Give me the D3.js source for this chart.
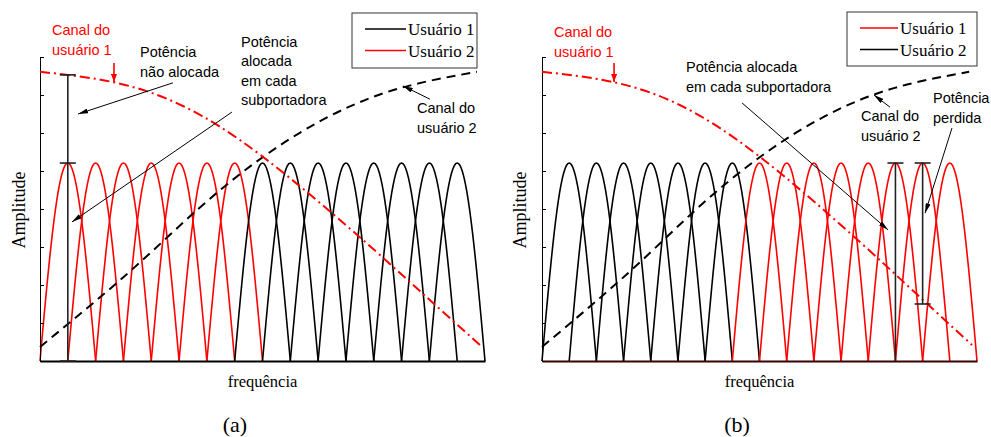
<!DOCTYPE html>
<html><head><meta charset="utf-8">
<script src="https://cdn.jsdelivr.net/npm/d3@7"></script>
<style>body{margin:0;background:#fff} svg{display:block}</style>
</head><body>
<svg id="c" width="991" height="437"></svg>
<script>
// ---------- data ----------
const carrierCenters = [1,2,3,4,5,6,7,8,9,10,11,12,13,14,15];
const carrierAmp = [5.21,5.21,5.21,5.21,5.21,5.21,5.21,5.21,5.21,5.21,5.21,5.21,5.21,5.21,5.21];
const ownerA = [2,2,2,2,2,2,2,1,1,1,1,1,1,1,1];
const ownerB = [2,2,2,2,2,2,2,1,1,1,1,1,1,1,1];
const ch1Freq = [0,2.62,5.14,8.02,11.40,13.66,15.82];
const ch1Amp  = [7.61,7.34,6.71,5.37,3.32,1.84,0.42];
const ch2Freq = [0,3.13,5.64,8.02,10.43,12.94,15.71];
const ch2Amp  = [0.37,2.29,3.97,5.37,6.45,7.18,7.61];
const yTicks = [0,1,2,3,4,5,6,7,8];
const legendLabels = ["Usuário 1","Usuário 2"];
const userColorsA = {1:"#000000", 2:"#ff0000"};
const userColorsB = {1:"#ff0000", 2:"#000000"};
const panelLabels = ["(a)","(b)"];

const RED = "#ff0000";
const SANS = "'Liberation Sans', Arial, sans-serif";
const SERIF = "'Liberation Serif', 'Times New Roman', serif";

const svg = d3.select("#c");
const defs = svg.append("defs");
function marker(id, color, w, h){
  defs.append("marker").attr("id", id)
    .attr("markerUnits","userSpaceOnUse")
    .attr("viewBox",`0 0 ${w} ${h}`)
    .attr("markerWidth", w).attr("markerHeight", h)
    .attr("refX", w).attr("refY", h/2).attr("orient","auto")
    .append("path").attr("d",`M0,0L${w},${h/2}L0,${h}Z`).attr("fill", color);
}
marker("arrK","#000",10,5);
marker("arrR",RED,8,6);

function panel(cfg){
  const x = d3.scaleLinear().domain([0,16]).range([cfg.x0, cfg.x1]);
  const y = d3.scaleLinear().domain([0,8]).range([361,57]);
  const g = svg.append("g");

  // lobes
  const lobeLine = d3.line().x(d=>x(d[0])).y(d=>y(d[1]));
  const steps = d3.range(0,41).map(i=>i/40);
  carrierCenters.forEach((c,i)=>{
    const pts = steps.map(t=>[c-1+2*t, carrierAmp[i]*Math.sin(Math.PI*t)]);
    g.append("path").attr("d", lobeLine(pts)).attr("fill","none")
      .attr("stroke", cfg.colors[cfg.owner[i]]).attr("stroke-width",1.6);
  });

  // axes
  const ya = d3.axisRight(y).tickValues(yTicks).tickSize(4).tickSizeOuter(0).tickFormat("");
  g.append("g").attr("transform",`translate(${cfg.x0},0)`).call(ya)
    .call(s=>s.selectAll("path,line").attr("stroke","#000").attr("stroke-width",1));
  const xa = d3.axisBottom(x).tickValues([]).tickSizeOuter(0);
  g.append("g").attr("transform",`translate(0,${y(0)})`).call(xa)
    .call(s=>s.selectAll("path").attr("stroke",cfg.xAxisColor).attr("stroke-width",2));

  // channels
  const chLine = d3.line().x(d=>x(d[0])).y(d=>y(d[1])).curve(d3.curveNatural);
  g.append("path").attr("d", chLine(ch2Freq.map((f,i)=>[f,ch2Amp[i]])))
    .attr("fill","none").attr("stroke","#000").attr("stroke-width",2)
    .attr("stroke-dasharray","9,6");
  g.append("path").attr("d", chLine(ch1Freq.map((f,i)=>[f,ch1Amp[i]])))
    .attr("fill","none").attr("stroke",RED).attr("stroke-width",2)
    .attr("stroke-dasharray","10,4,2,4");

  // bars
  cfg.bars.forEach(b=>{
    g.append("line").attr("x1",x(b.f)).attr("x2",x(b.f)).attr("y1",y(b.lo)).attr("y2",y(b.hi))
      .attr("stroke","#222").attr("stroke-width",1.6);
    b.caps.forEach(v=>{
      g.append("line").attr("x1",x(b.f)-8).attr("x2",x(b.f)+8).attr("y1",y(v)).attr("y2",y(v))
        .attr("stroke","#222").attr("stroke-width",1.6);
    });
  });

  // arrows
  cfg.arrows.forEach(a=>{
    g.append("line").attr("x1",x(a[0])).attr("y1",y(a[1])).attr("x2",x(a[2])).attr("y2",y(a[3]))
      .attr("stroke", a[4]||"#000").attr("stroke-width", a[4]?1.6:1)
      .attr("marker-end", a[4]?"url(#arrR)":"url(#arrK)");
  });

  // texts
  cfg.texts.forEach(t=>{
    const tx = g.append("text").attr("x",t.x).attr("y",t.y)
      .attr("font-family",SANS).attr("font-size",14.5).attr("fill",t.c||"#000");
    t.lines.forEach((l,i)=>tx.append("tspan").attr("x",t.x).attr("dy", i?19.5:0).text(l));
  });

  // legend
  const L = cfg.legend;
  g.append("rect").attr("x",L.x).attr("y",L.y).attr("width",L.w).attr("height",L.h)
    .attr("fill","#fff").attr("stroke","#333").attr("stroke-width",1);
  legendLabels.forEach((lab,i)=>{
    const yy = L.y + 16 + i*21.5;
    g.append("line").attr("x1",L.x+L.lx0).attr("x2",L.x+L.lx1).attr("y1",yy).attr("y2",yy)
      .attr("stroke",cfg.colors[i+1]).attr("stroke-width",1.6);
    g.append("text").attr("x",L.x+L.lx1+2).attr("y",yy+6).attr("font-family",SERIF)
      .attr("font-size",17).text(lab);
  });

  // axis labels
  g.append("text").attr("x",(cfg.x0+cfg.x1)/2).attr("y",387).attr("text-anchor","middle")
    .attr("font-family",SERIF).attr("font-size",16.5).text("frequência");
  g.append("text").attr("transform",`translate(${cfg.ylabX},210) rotate(-90)`).attr("text-anchor","middle")
    .attr("font-family",SERIF).attr("font-size",18).text("Amplitude");
  g.append("text").attr("x",cfg.capX).attr("y",432).attr("text-anchor","middle")
    .attr("font-family",SERIF).attr("font-size",22).text(cfg.cap);
}

panel({
  x0:40, x1:485, owner:ownerA, colors:userColorsA, xAxisColor:"#000",
  ylabX:25, capX:235, cap:panelLabels[0],
  bars:[{f:1, lo:0, hi:7.53, caps:[7.53, carrierAmp[0], 0]}],
  arrows:[
    [4.78,7.32,1.37,6.5],
    [6.9,6.55,1.15,3.66],
    [14.02,6.89,13.05,7.24],
    [2.66,7.84,2.66,7.34,RED]
  ],
  texts:[
    {x:52,y:35,lines:["Canal do","usuário 1"],c:RED},
    {x:140,y:57,lines:["Potência","não alocada"]},
    {x:241,y:46.5,lines:["Potência","alocada","em cada","subportadora"]},
    {x:417,y:113,lines:["Canal do","usuário 2"]}
  ],
  legend:{x:352,y:13,w:125,h:55,lx0:13,lx1:54}
});

panel({
  x0:542, x1:977, owner:ownerB, colors:userColorsB, xAxisColor:"#3a0000",
  ylabX:526, capX:737, cap:panelLabels[1],
  bars:[
    {f:13, lo:0, hi:carrierAmp[12], caps:[carrierAmp[12]]},
    {f:14, lo:1.5, hi:carrierAmp[13], caps:[carrierAmp[13],1.5]}
  ],
  arrows:[
    [7.36,6.79,12.73,3.45],
    [15.08,6.13,14.09,3.89],
    [12.8,6.68,12.21,7.0],
    [2.65,7.84,2.65,7.34,RED]
  ],
  texts:[
    {x:554,y:37,lines:["Canal do","usuário 1"],c:RED},
    {x:686,y:72,lines:["Potência alocada","em cada subportadora"]},
    {x:861,y:121,lines:["Canal do","usuário 2"]},
    {x:933,y:103,lines:["Potência","perdida"]}
  ],
  legend:{x:847,y:12,w:130,h:54,lx0:13,lx1:51}
});
</script>
</body></html>
